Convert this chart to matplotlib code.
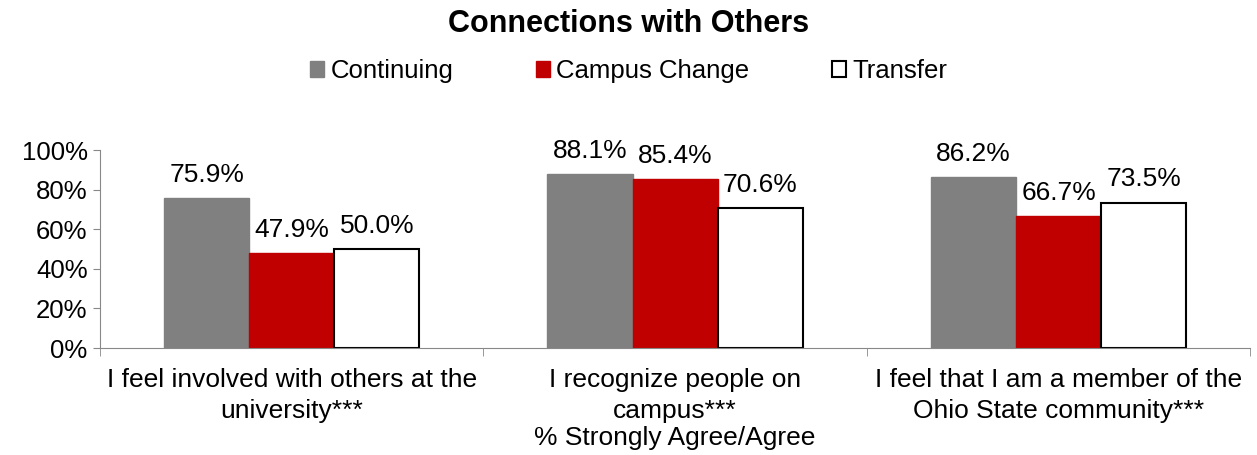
import numpy as np
import matplotlib.pyplot as plt

plt.rcParams['font.family'] = ['Liberation Sans', 'DejaVu Sans']

categories = ["I feel involved with others at the\nuniversity***",
              "I recognize people on\ncampus***",
              "I feel that I am a member of the\nOhio State community***"]
series_names = ["Continuing", "Campus Change", "Transfer"]
continuing = [75.9, 88.1, 86.2]
campus_change = [47.9, 85.4, 66.7]
transfer = [50.0, 70.6, 73.5]

fig = plt.figure(figsize=(12.57, 4.55), dpi=100)
ax = fig.add_axes([0.0796, 0.235, 0.915, 0.435])

x = np.arange(len(categories))
w = 0.222
styles = [dict(color='#808080', edgecolor='#808080'),
          dict(color='#C00000', edgecolor='#C00000'),
          dict(color='white', edgecolor='black', linewidth=1.5)]
bars_all = []
for i, (vals, st, name) in enumerate(zip([continuing, campus_change, transfer], styles, series_names)):
    bars = ax.bar(x + (i - 1) * w, vals, w, label=name, **st)
    bars_all.append(bars)
    for b, v in zip(bars, vals):
        ax.annotate(f"{v:.1f}%", (b.get_x() + b.get_width() / 2, v),
                    xytext=(0, 8), textcoords='offset points',
                    ha='center', va='bottom', fontsize=19)

ax.set_xlim(-0.5, len(categories) - 0.5)
ax.set_ylim(0, 100)
ax.set_yticks(range(0, 101, 20))
ax.set_yticklabels([f"{t}%" for t in range(0, 101, 20)], fontsize=18.5)
ax.set_xticks(x)
ax.set_xticklabels(categories, fontsize=19, linespacing=1.38)
ax.tick_params(axis='x', length=0, pad=14)
ax.set_xticks(np.arange(-0.5, len(categories), 1), minor=True)
ax.tick_params(axis='x', which='minor', length=6, color='#888888')
ax.tick_params(axis='y', length=5, color='#888888', pad=4)
ax.set_xlabel("% Strongly Agree/Agree", fontsize=19, labelpad=2)

for s in ['top', 'right']:
    ax.spines[s].set_visible(False)
for s in ['left', 'bottom']:
    ax.spines[s].set_color('#888888')

fig.text(0.5, 0.947, "Connections with Others", fontsize=22, fontweight='bold',
         ha='center', va='center')
fig.legend(handles=bars_all, labels=series_names, loc='center', ncol=3,
           bbox_to_anchor=(0.5, 0.844), frameon=False, fontsize=18.5,
           handlelength=0.55, handleheight=0.55, handletextpad=0.25, columnspacing=3.2)

fig.savefig("out.png", dpi=100)
